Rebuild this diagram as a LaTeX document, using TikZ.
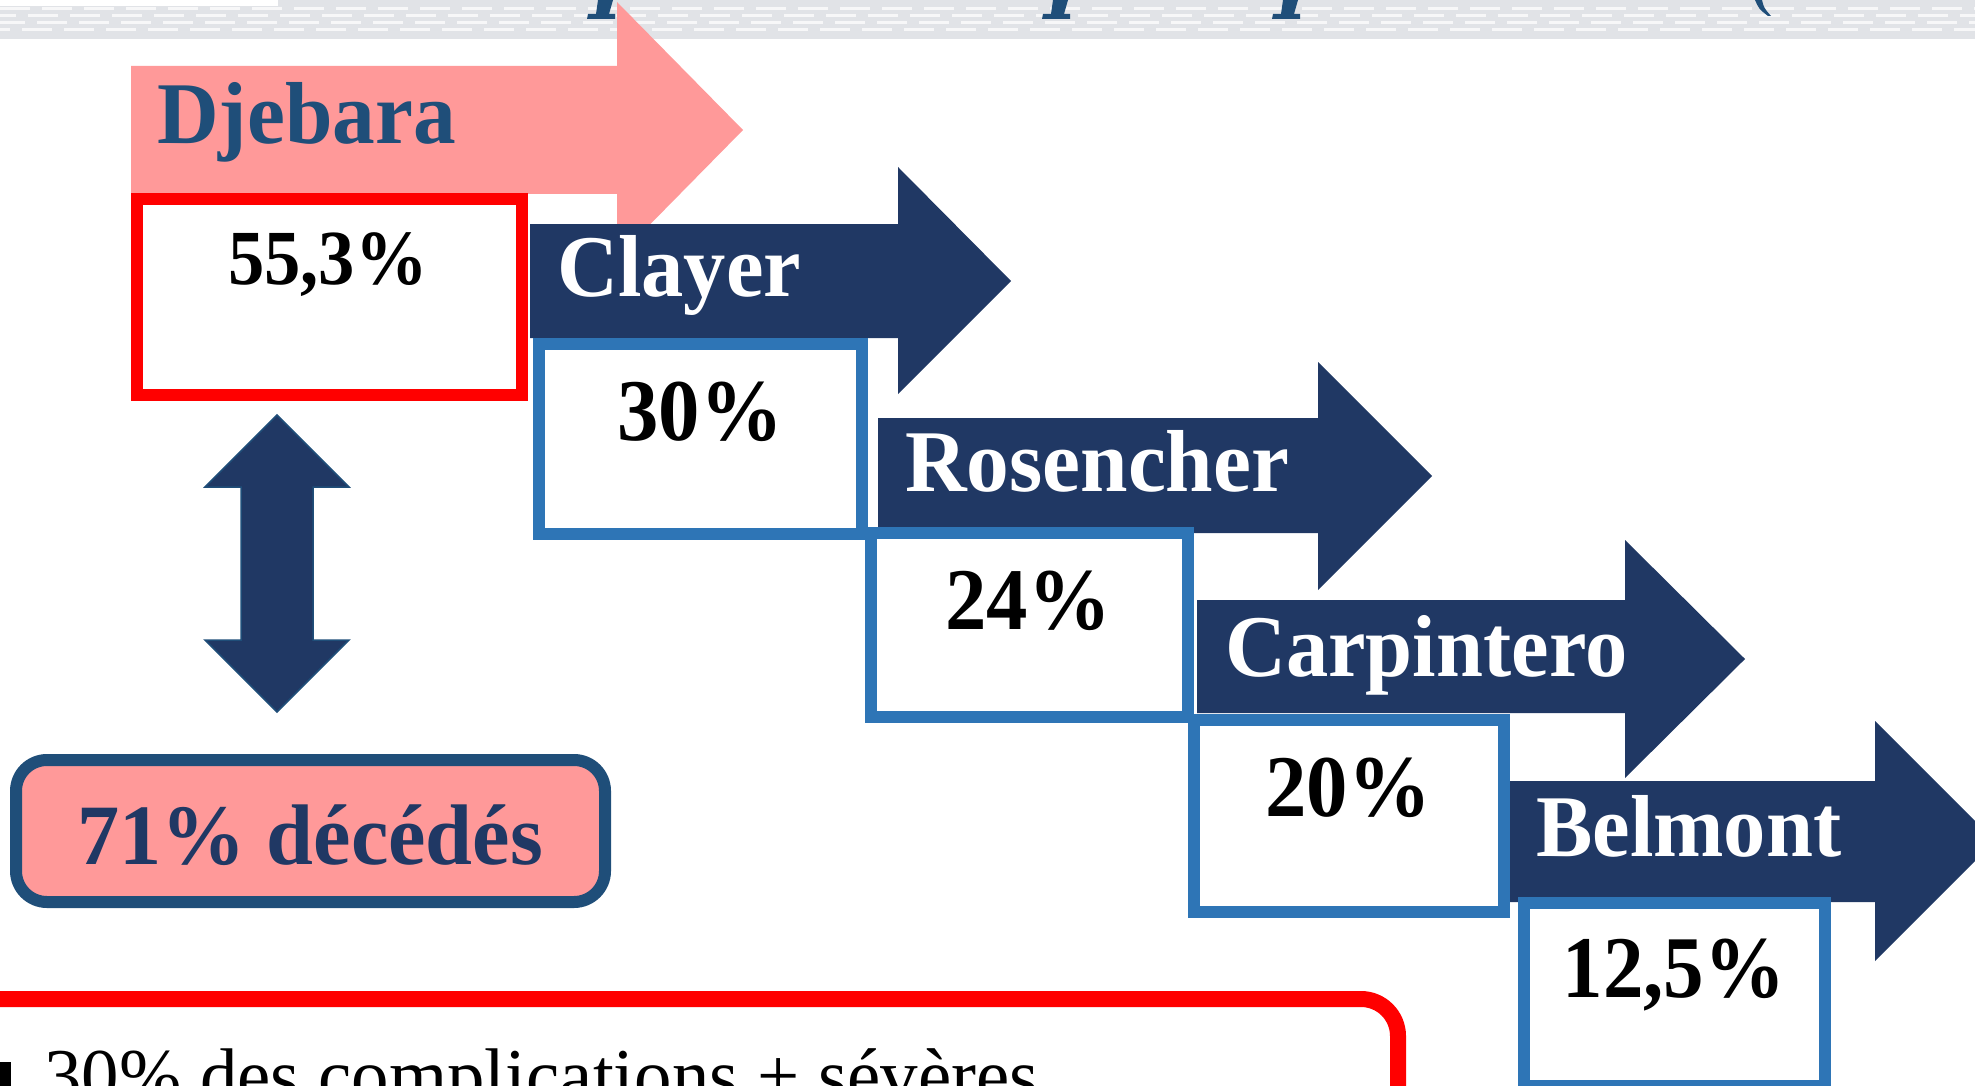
\documentclass[tikz,border=0pt]{standalone}
\usepackage{fontspec}
\setmainfont{Liberation Serif}
\definecolor{navy}{HTML}{203864}
\definecolor{navyline}{HTML}{1F4E79}
\definecolor{pinkfill}{HTML}{FF9999}
\definecolor{boxblue}{HTML}{2E75B6}
\definecolor{bannergray}{HTML}{E1E3E7}
\tikzset{
  bigarrow/.style={fill=navy},
  pinkarrow/.style={fill=pinkfill},
  redbox/.style={draw=red, line width=12pt, fill=white},
  bluebox/.style={draw=boxblue, line width=12pt, fill=white},
  nametext/.style={anchor=base west, inner sep=0pt, text=white, font=\bfseries\fontsize{88}{100}\selectfont},
  pcttext/.style={anchor=base, inner sep=0pt, text=black, font=\bfseries\fontsize{88}{100}\selectfont},
  glyph/.style={fill=navyline},
  dashrow/.style={draw=white, opacity=0.75, line width=3pt}
}
\begin{document}
\begin{tikzpicture}[x=1pt,y=-1pt]
\useasboundingbox (0,0) rectangle (1975,1086);
\clip (0,0) rectangle (1975,1086);
% banner
\fill[bannergray] (0,0) rectangle (1975,39);
\foreach \yy/\ph in {9/0,16/14,23/5,30/20}{
  \draw[dashrow, dash pattern=on 30pt off 12pt, dash phase=\ph pt] (0,\yy) -- (1975,\yy);
}
\fill[white] (0,0) rectangle (278,6);
% title glyph fragments
\foreach \dx in {0,455,685}{
  \fill[glyph, shift={(\dx,0)}] (598,0) -- (613,0) -- (609,14) -- (615,14) -- (615,19) -- (587,19) -- (588,14) -- (596,14) -- cycle;
}
\fill[glyph] (1755,0) -- (1762,0) .. controls (1764,8) .. (1771,16) -- (1768,16) .. controls (1759,9) .. (1755,0) -- cycle;

% Djebara arrow
\fill[pinkarrow] (131,66) -- (617,66) -- (617,2) -- (743,130) -- (617,258) -- (617,194) -- (131,194) -- cycle;
\node[nametext, text=navyline] (djebara) at (157,144) {\scalebox{0.97}[1]{Djebara}};
\draw[redbox] (137,199) rectangle (522,395);
\node[pcttext, font=\bfseries\fontsize{78}{90}\selectfont] (p1) at (328,284) {\scalebox{0.93}[1]{55,3\%}};

% Clayer
\fill[bigarrow] (530,224) -- (898,224) -- (898,167) -- (1011,281) -- (898,394) -- (898,338) -- (530,338) -- cycle;
\node[nametext] (clayer) at (557,296) {\scalebox{0.96}[1]{Clayer}};
\draw[bluebox] (539,344) rectangle (862,534);
\node[pcttext] (p2) at (700,440) {\scalebox{0.94}[1]{30\%}};

% Rosencher
\fill[bigarrow] (878,418) -- (1318,418) -- (1318,362) -- (1432,476) -- (1318,590) -- (1318,533) -- (878,533) -- cycle;
\node[nametext] (rosencher) at (905,491) {\scalebox{0.97}[1]{Rosencher}};
\draw[bluebox] (871,533) rectangle (1188,717);
\node[pcttext] (p3) at (1028,629) {\scalebox{0.94}[1]{24\%}};

% Carpintero
\fill[bigarrow] (1197,600) -- (1625,600) -- (1625,540) -- (1745,659) -- (1625,778) -- (1625,713) -- (1197,713) -- cycle;
\node[nametext] (carpintero) at (1225,676) {\scalebox{0.96}[1]{Carpintero}};
\draw[bluebox] (1194,720) rectangle (1504,912);
\node[pcttext] (p4) at (1348,816) {\scalebox{0.94}[1]{20\%}};

% Belmont
\fill[bigarrow] (1510,781) -- (1875,781) -- (1875,721) -- (1995,841) -- (1875,961) -- (1875,902) -- (1510,902) -- cycle;
\node[nametext] (belmont) at (1536,856) {\scalebox{0.96}[1]{Belmont}};
\draw[bluebox] (1524,903) rectangle (1825,1086);
\node[pcttext] (p5) at (1674,997) {\scalebox{0.92}[1]{12,5\%}};

% double arrow
\filldraw[fill=navy, draw=navyline, line width=1.5pt] (277,415) -- (349,487) -- (313,487) -- (313,640) -- (349,640) -- (277,712) -- (205,640) -- (241,640) -- (241,487) -- (205,487) -- cycle;

% 71% box
\draw[draw=navyline, fill=pinkfill, line width=12pt, rounded corners=31pt] (16,760) rectangle (605,902);
\node[pcttext, text=navy, font=\bfseries\fontsize{86}{100}\selectfont] (dead) at (310,864) {\scalebox{0.98}[1]{71\% décédés}};

% bottom red box
\draw[draw=red, line width=16pt, rounded corners=37pt] (-60,999) -- (1398,999) -- (1398,1140);
\fill[black] (-12,1062) rectangle (11,1090);
\node[anchor=base west, inner sep=0pt, font=\fontsize{76}{90}\selectfont] (compl) at (44,1101) {\scalebox{0.985}[1]{30\% des complications + sévères}};
\end{tikzpicture}
\end{document}
